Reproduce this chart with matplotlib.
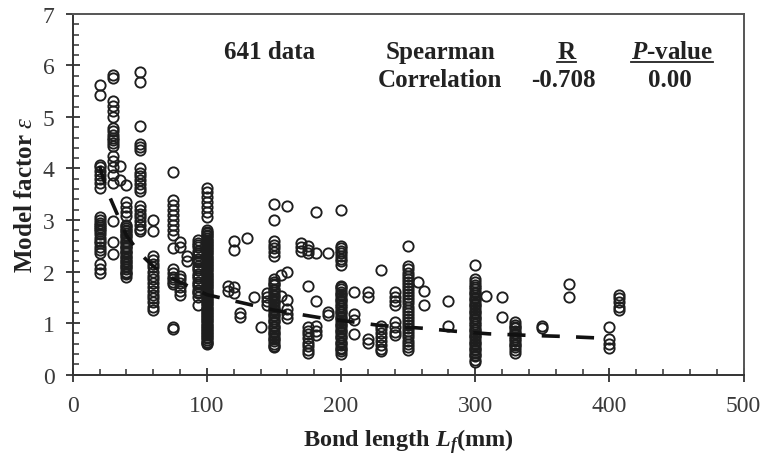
import matplotlib
matplotlib.use("Agg")
import matplotlib.pyplot as plt
from matplotlib.lines import Line2D

plt.rcParams['font.family'] = ['Liberation Serif', 'DejaVu Serif']
plt.rcParams['mathtext.fontset'] = 'custom'
plt.rcParams['mathtext.rm'] = 'Liberation Serif'
plt.rcParams['mathtext.it'] = 'Liberation Serif:italic'
plt.rcParams['mathtext.bf'] = 'Liberation Serif:bold'
plt.rcParams['mathtext.bfit'] = 'Liberation Serif:italic:bold'

# ---- data: model factor values read per bond length (mm) ----
eps_20 = [5.62, 5.42, 4.07, 4.02, 3.95, 3.87, 3.80, 3.72, 3.63, 3.05, 3.0, 2.95, 2.9, 2.86,
          2.82, 2.78, 2.72, 2.66, 2.6, 2.55, 2.48, 2.42, 2.36, 2.15, 2.05, 1.98]
eps_30 = [5.82, 5.76, 5.32, 5.22, 5.12, 5.0, 4.78, 4.72, 4.66, 4.6, 4.55, 4.5, 4.44, 4.25,
          4.15, 4.02, 3.88, 3.72, 2.98, 2.58, 2.34]
eps_35 = [4.05, 3.78]
eps_40 = [3.68, 3.35, 3.25, 3.15, 3.08, 2.9, 2.85, 2.8, 2.75, 2.7, 2.65, 2.6, 2.55, 2.5,
          2.45, 2.4, 2.35, 2.3, 2.25, 2.2, 2.15, 2.1, 2.05, 2.0, 1.95, 1.9,
          2.88, 2.78, 2.68, 2.58, 2.48, 2.38, 2.28, 2.18, 2.08, 1.98]
eps_50 = [5.88, 5.68, 4.82, 4.48, 4.42, 4.36, 4.0, 3.92, 3.85, 3.78, 3.7, 3.62, 3.56, 3.28,
          3.2, 3.12, 3.05, 2.98, 2.9, 2.83, 2.78]
eps_60 = [3.0, 2.78, 2.3, 2.22, 2.15, 2.08, 2.0, 1.92, 1.85, 1.78, 1.7, 1.62, 1.55, 1.48,
          1.4, 1.32, 1.26]
eps_75 = [3.93, 3.38, 3.3, 3.2, 3.1, 3.0, 2.9, 2.8, 2.7, 2.45, 2.05, 1.98, 1.9, 1.85, 1.8,
          1.75, 0.93, 0.88]
eps_80 = [2.58, 2.48, 1.92, 1.85, 1.78, 1.7, 1.62, 1.55]
eps_85 = [2.3, 2.2]
eps_93 = [2.62, 2.55, 2.48, 2.4, 2.32, 2.25, 2.18, 2.1, 2.02, 1.95, 1.88, 1.8, 1.72, 1.65,
          1.58, 1.5, 1.35, 2.51, 2.36, 2.21, 2.06, 1.91, 1.76, 1.61]
eps_100 = [3.62, 3.55, 3.45, 3.35, 3.25, 3.15, 3.05, 2.8, 2.74, 2.68, 2.62, 2.56, 2.5, 2.44,
           2.38, 2.32, 2.26, 2.2, 2.14, 2.08, 2.02, 1.96, 1.9, 1.84, 1.78, 1.72, 1.66, 1.6,
           1.54, 1.48, 1.42, 1.36, 1.3, 1.24, 1.18, 1.12, 1.06, 1.0, 0.94, 0.88, 0.82, 0.76,
           0.7, 0.64, 0.6, 2.77, 2.71, 2.65, 2.59, 2.53, 2.47, 2.41, 2.35, 2.29, 2.23, 2.17,
           2.11, 2.05, 1.99, 1.93, 1.87, 1.81, 1.75, 1.69, 1.63, 1.57, 1.51, 1.45, 1.39,
           1.33, 1.27, 1.21, 1.15, 1.09, 1.03, 0.97, 0.91, 0.85, 0.79, 0.73, 0.67, 0.62]
eps_116 = [1.72, 1.62]
eps_120 = [2.6, 2.42, 1.7, 1.58]
eps_125 = [1.2, 1.12]
eps_130 = [2.65]
eps_135 = [1.5]
eps_140 = [0.92]
eps_145 = [1.58, 1.5, 1.42, 1.35]
eps_150 = [3.32, 3.0, 2.6, 2.52, 2.45, 2.38, 2.3, 1.85, 1.79, 1.73, 1.67, 1.61, 1.55, 1.49,
           1.43, 1.37, 1.31, 1.25, 1.19, 1.13, 1.07, 1.01, 0.95, 0.89, 0.83, 0.77, 0.71,
           0.65, 0.59, 0.53, 1.76, 1.64, 1.52, 1.4, 1.28, 1.16, 1.04, 0.92, 0.8, 0.68, 0.56]
eps_155 = [1.93, 1.52]
eps_160 = [3.28, 2.0, 1.45, 1.28, 1.18, 1.1]
eps_170 = [2.55, 2.48, 2.4]
eps_175 = [2.5, 2.42, 2.35, 1.72, 0.92, 0.85, 0.78, 0.7, 0.62, 0.55, 0.48, 0.42]
eps_181 = [3.15, 2.35, 1.42, 0.95, 0.85, 0.76]
eps_190 = [2.35, 1.22, 1.15]
eps_200 = [3.2, 2.5, 2.45, 2.4, 2.35, 2.3, 2.25, 2.2, 2.12, 1.72, 1.66, 1.6, 1.54, 1.48,
           1.42, 1.36, 1.3, 1.24, 1.18, 1.12, 1.06, 1.0, 0.94, 0.88, 0.82, 0.76, 0.7, 0.64,
           0.58, 0.52, 0.46, 0.4, 1.69, 1.57, 1.45, 1.33, 1.21, 1.09, 0.97, 0.85, 0.73,
           0.61, 0.49]
eps_210 = [1.6, 1.18, 1.05, 0.78]
eps_220 = [1.6, 1.5, 0.68, 0.62]
eps_230 = [2.02, 0.95, 0.88, 0.8, 0.72, 0.65, 0.58, 0.5, 0.45]
eps_240 = [1.6, 1.5, 1.42, 1.35, 1.02, 0.92, 0.82, 0.76]
eps_250 = [2.5, 2.1, 2.04, 1.98, 1.92, 1.86, 1.8, 1.74, 1.68, 1.62, 1.56, 1.5, 1.44, 1.38,
           1.32, 1.26, 1.2, 1.14, 1.08, 1.02, 0.96, 0.9, 0.84, 0.78, 0.72, 0.66, 0.6, 0.54,
           0.48]
eps_257 = [1.8]
eps_262 = [1.62, 1.34]
eps_280 = [1.42, 0.95]
eps_300 = [2.12, 1.85, 1.79, 1.73, 1.67, 1.61, 1.55, 1.49, 1.43, 1.37, 1.31, 1.25, 1.19,
           1.13, 1.07, 1.01, 0.95, 0.89, 0.83, 0.77, 0.71, 0.65, 0.59, 0.53, 0.47, 0.41,
           0.35, 0.29, 0.25, 1.7, 1.58, 1.46, 1.34, 1.22, 1.1, 0.98, 0.86, 0.74, 0.62, 0.5,
           0.38]
eps_308 = [1.52]
eps_320 = [1.5, 1.12]
eps_330 = [1.02, 0.96, 0.9, 0.84, 0.78, 0.72, 0.66, 0.6, 0.54, 0.48, 0.42, 0.93, 0.81,
           0.69, 0.57]
eps_350 = [0.95, 0.9]
eps_370 = [1.76, 1.5]
eps_400 = [0.93, 0.68, 0.6, 0.52]
eps_407 = [1.55, 1.48, 1.4, 1.32, 1.26]

# trend (dashed) line
trend_L = [20, 25, 30, 40, 50, 60, 75, 100, 130, 150, 185, 200, 230, 260, 285, 310, 340, 365, 400]
trend_eps = [4.05, 3.6, 3.3, 2.7, 2.35, 2.1, 1.85, 1.55, 1.37, 1.25, 1.1, 1.05, 0.95, 0.9,
             0.84, 0.79, 0.76, 0.74, 0.70]

x_ticks = [0, 100, 200, 300, 400, 500]
y_ticks = [0, 1, 2, 3, 4, 5, 6, 7]

columns = [(20, eps_20), (30, eps_30), (35, eps_35), (40, eps_40), (50, eps_50),
           (60, eps_60), (75, eps_75), (80, eps_80), (85, eps_85), (93, eps_93),
           (100, eps_100), (116, eps_116), (120, eps_120), (125, eps_125), (130, eps_130),
           (135, eps_135), (140, eps_140), (145, eps_145), (150, eps_150), (155, eps_155),
           (160, eps_160), (170, eps_170), (175, eps_175), (181, eps_181), (190, eps_190),
           (200, eps_200), (210, eps_210), (220, eps_220), (230, eps_230), (240, eps_240),
           (250, eps_250), (257, eps_257), (262, eps_262), (280, eps_280), (300, eps_300),
           (308, eps_308), (320, eps_320), (330, eps_330), (350, eps_350), (370, eps_370),
           (400, eps_400), (407, eps_407)]

xs, ys = [], []
for L, vals in columns:
    xs += [L] * len(vals)
    ys += vals

fig = plt.figure(figsize=(7.67, 4.64), dpi=100)
ax = fig.add_axes([0.0949, 0.1907, 0.8745, 0.777])

ax.plot(xs, ys, linestyle='none', marker='o', markersize=7.4, markerfacecolor='none',
        markeredgecolor='#1e1e1e', markeredgewidth=1.35, zorder=2)
ax.plot(trend_L, trend_eps, color='#111111', linewidth=2.6, dashes=(5.0, 4.5), zorder=3)

ax.set_xlim(0, 500)
ax.set_ylim(0, 7)
ax.set_xticks(x_ticks)
ax.set_yticks(y_ticks)
ax.set_xticks([v for v in range(20, 500, 20) if v % 100], minor=True)
ax.set_yticks([i / 5 for i in range(1, 35) if i % 5], minor=True)
ax.tick_params(axis='both', which='major', direction='inout', length=10, width=1.3,
               color='#333333', labelsize=17, labelcolor='#3a3a3a')
ax.tick_params(axis='x', which='major', pad=10)
ax.tick_params(axis='y', which='major', pad=8)
ax.tick_params(axis='both', which='minor', direction='in', length=4, width=1.1,
               color='#333333')
for s in ax.spines.values():
    s.set_color('#555555')
    s.set_linewidth(1.4)
ax.spines['left'].set_color('#333333')
ax.spines['bottom'].set_color('#333333')

ax.set_xlabel(r'Bond length $\mathbfit{L_f}$(mm)', fontsize=17.5, fontweight='bold',
              labelpad=7, color='#222222')
ax.set_ylabel(r'Model factor $\mathit{\varepsilon}$', fontsize=18, fontweight='bold',
              labelpad=4, color='#222222')

tk = dict(fontsize=18, fontweight='bold', ha='center', va='center', color='#222222')
ax.text(147, 6.27, '641 data', **tk)
ax.text(274, 6.27, 'Spearman', **tk)
ax.text(274, 5.73, 'Correlation', **tk)
tR = ax.text(368, 6.27, 'R', **tk)
ax.text(366, 5.73, '-0.708', **tk)
tP = ax.text(447, 6.27, r'$\mathbfit{P}$-value', **tk)
ax.text(445, 5.73, '0.00', **tk)

fig.canvas.draw()
r = fig.canvas.get_renderer()
for t in (tR, tP):
    bb = t.get_window_extent(r)
    yl = bb.y0 + 1.5
    fig.add_artist(Line2D([bb.x0 / fig.bbox.width, bb.x1 / fig.bbox.width],
                          [yl / fig.bbox.height, yl / fig.bbox.height],
                          color='#222222', linewidth=1.3))

fig.savefig('out.png', dpi=100)
